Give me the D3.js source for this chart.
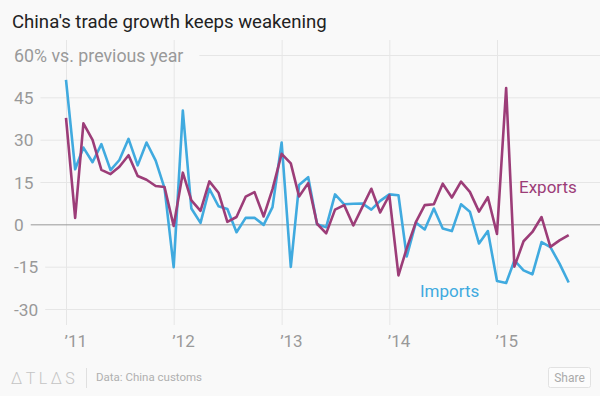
<!DOCTYPE html>
<html>
<head>
<meta charset="utf-8">
<script src="https://cdn.jsdelivr.net/npm/d3@7/dist/d3.min.js"></script>
<style>
  body { margin: 0; background: #f9f9f9; }
  svg { display: block; font-family: Roboto, "Open Sans", sans-serif; }
</style>
</head>
<body>
<svg id="chart"></svg>
<script>
// ************ data ************
const months = [
  "2011-01","2011-02","2011-03","2011-04","2011-05","2011-06","2011-07","2011-08","2011-09","2011-10","2011-11","2011-12",
  "2012-01","2012-02","2012-03","2012-04","2012-05","2012-06","2012-07","2012-08","2012-09","2012-10","2012-11","2012-12",
  "2013-01","2013-02","2013-03","2013-04","2013-05","2013-06","2013-07","2013-08","2013-09","2013-10","2013-11","2013-12",
  "2014-01","2014-02","2014-03","2014-04","2014-05","2014-06","2014-07","2014-08","2014-09","2014-10","2014-11","2014-12",
  "2015-01","2015-02","2015-03","2015-04","2015-05","2015-06","2015-07","2015-08","2015-09"
]

const exportsGrowth = [
  37.7, 2.3, 35.8, 29.9, 19.3, 17.8, 20.4, 24.5, 17.1, 15.8, 13.6, 13.2,
  -0.6, 18.3, 8.5, 4.8, 15.2, 11.2, 0.9, 2.6, 9.8, 11.4, 2.8, 12.5,
  25.0, 21.6, 9.9, 14.6, 0.2, -3.2, 5.2, 6.8, -0.4, 6.0, 12.6, 4.2,
  10.3, -18.1, -8.5, 0.8, 6.8, 7.1, 14.4, 9.5, 15.1, 11.5, 4.5, 9.6,
  -3.4, 48.3, -15.0, -6.0, -2.7, 2.6, -8.0, -5.7, -3.8
]

const importsGrowth = [
  51.2, 19.5, 27.2, 22.0, 28.4, 19.2, 22.8, 30.3, 20.9, 29.0, 22.6, 12.8,
  -15.2, 40.3, 5.6, 0.5, 12.6, 6.4, 5.4, -2.8, 2.3, 2.3, -0.2, 6.1,
  29.0, -15.1, 13.9, 16.7, 0.0, -1.0, 10.6, 7.1, 7.3, 7.4, 5.2, 8.3,
  10.6, 10.3, -11.4, 0.6, -1.8, 5.6, -1.5, -2.4, 7.1, 4.5, -6.8, -2.4,
  -20.1, -20.8, -12.8, -16.3, -17.7, -6.3, -8.1, -13.9, -20.6
]

const yTicks = [60, 45, 30, 15, 0, -15, -30]
const yearTicks = ["2011-01", "2012-01", "2013-01", "2014-01", "2015-01"]

// ************ setup ************
const width = 600
const height = 396
const parseMonth = d3.timeParse("%Y-%m")
const exportColor = "#9c3d78"
const importColor = "#40aadf"

const svg = d3.select("#chart")
  .attr("width", width)
  .attr("height", height)

svg.append("rect")
  .attr("width", width)
  .attr("height", height)
  .attr("fill", "#f9f9f9")

const x = d3.scaleTime()
  .domain([parseMonth("2011-01"), parseMonth("2015-01")])
  .range([66, 497])

const y = d3.scaleLinear()
  .domain([-30, 60])
  .range([309, 55])

// title
svg.append("text")
  .attr("x", 12)
  .attr("y", 28)
  .style("font-size", "18.6px")
  .style("fill", "#222")
  .text("China's trade growth keeps weakening")

// x axis (vertical gridlines + year labels)
const xAxis = d3.axisBottom(x)
  .tickValues(yearTicks.map(parseMonth))
  .tickSize(285)
  .tickFormat(d3.timeFormat("’%y"))

const gx = svg.append("g")
  .attr("class", "x-axis")
  .attr("transform", "translate(0,40)")
  .call(xAxis)

gx.select(".domain").remove()
gx.selectAll(".tick line").attr("stroke", "#e6e6e6")
gx.selectAll(".tick text")
  .attr("y", 307)
  .attr("dy", 0)
  .attr("text-anchor", "start")
  .attr("x", -2)
  .style("font-family", "Roboto, sans-serif")
  .style("font-size", "17px")
  .style("fill", "#999")

// y axis labels + horizontal gridlines
const yAxis = d3.axisLeft(y)
  .tickValues(yTicks)
  .tickSize(0)
  .tickFormat(function(d) {
    return d === 60 ? "60% vs. previous year" : d
  })

const gy = svg.append("g")
  .attr("class", "y-axis")
  .attr("transform", "translate(14,0)")
  .call(yAxis)

gy.select(".domain").remove()
gy.selectAll(".tick text")
  .attr("x", 0)
  .attr("dy", "0.36em")
  .attr("text-anchor", "start")
  .style("font-family", "Roboto, sans-serif")
  .style("font-size", function(d) { return d === 60 ? "17.8px" : "17.3px" })
  .style("fill", "#999")

gy.selectAll(".tick").each(function(d) {
  const tick = d3.select(this)
  const w = tick.select("text").node().getComputedTextLength()
  tick.insert("line", "text")
    .attr("x1", w + (d === 60 ? 16 : 7))
    .attr("x2", width)
    .attr("stroke", d === 0 ? "#999" : "#e6e6e6")
    .attr("stroke-width", 1)
})

// lines
const series = [
  { name: "Exports", values: exportsGrowth, color: exportColor },
  { name: "Imports", values: importsGrowth, color: importColor }
]

const line = d3.line()
  .x(function(d, i) { return x(parseMonth(months[i])) })
  .y(function(d) { return y(d) })

// imports drawn first so exports sit on top
svg.selectAll(".series")
  .data(series.slice().reverse())
  .enter()
  .append("path")
  .attr("class", "series")
  .attr("d", function(d) { return line(d.values) })
  .attr("fill", "none")
  .attr("stroke", function(d) { return d.color })
  .attr("stroke-width", 2.6)
  .attr("stroke-linejoin", "round")

// series labels
svg.append("text")
  .attr("x", 519)
  .attr("y", 193)
  .style("font-size", "17px")
  .style("fill", exportColor)
  .text("Exports")

svg.append("text")
  .attr("x", 420)
  .attr("y", 297)
  .style("font-size", "17px")
  .style("fill", importColor)
  .text("Imports")

// footer
svg.append("text")
  .attr("x", 11)
  .attr("y", 384)
  .style("font-size", "16px")
  .style("font-weight", 300)
  .style("letter-spacing", "3.5px")
  .style("fill", "#c4c4c4")
  .text("ΔTLΔS")

svg.append("line")
  .attr("x1", 86.5)
  .attr("x2", 86.5)
  .attr("y1", 368)
  .attr("y2", 388)
  .attr("stroke", "#e0e0e0")

svg.append("text")
  .attr("x", 96)
  .attr("y", 381)
  .style("font-size", "11.5px")
  .style("fill", "#b0b0b0")
  .text("Data: China customs")

svg.append("rect")
  .attr("x", 548.5)
  .attr("y", 367.5)
  .attr("width", 42)
  .attr("height", 20)
  .attr("rx", 2)
  .attr("fill", "#fcfcfc")
  .attr("stroke", "#e2e2e2")

svg.append("text")
  .attr("x", 569.5)
  .attr("y", 381.5)
  .attr("text-anchor", "middle")
  .style("font-size", "12px")
  .style("fill", "#aaa")
  .text("Share")
</script>
</body>
</html>
